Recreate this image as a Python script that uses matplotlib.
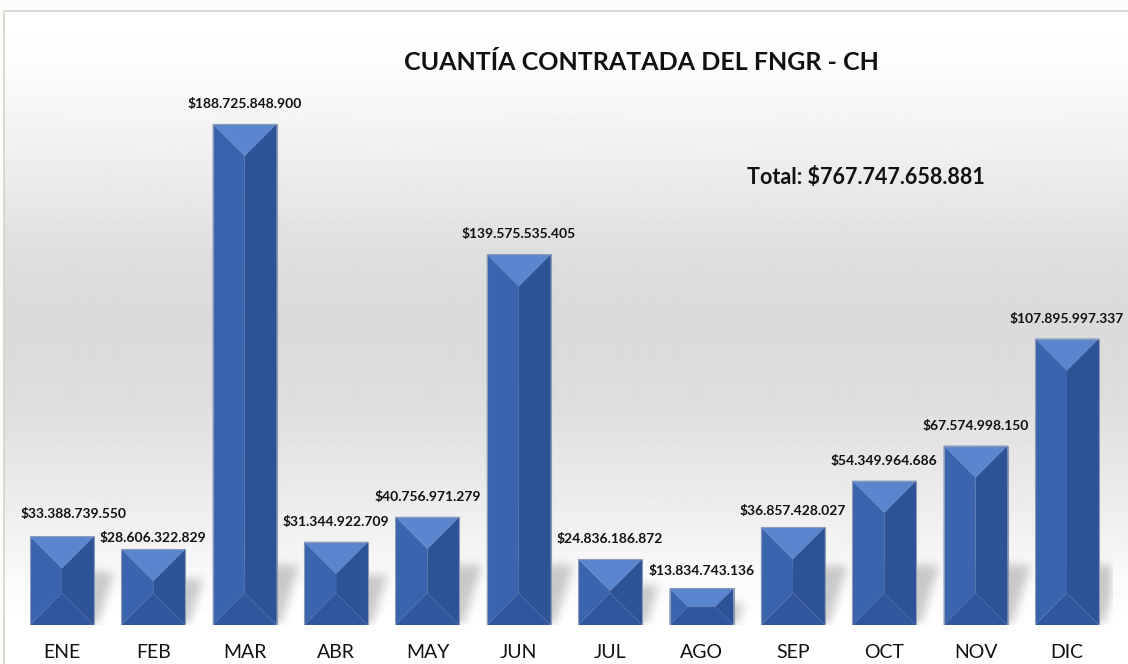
import numpy as np
import matplotlib
matplotlib.use("Agg")
import matplotlib.pyplot as plt
from matplotlib.patches import Polygon, Rectangle
from matplotlib.path import Path

# Monthly contracted amounts (pesos)
months = ["ENE", "FEB", "MAR", "ABR", "MAY", "JUN",
          "JUL", "AGO", "SEP", "OCT", "NOV", "DIC"]
values = [33388739550, 28606322829, 188725848900, 31344922709,
          40756971279, 139575535405, 24836186872, 13834743136,
          36857428027, 54349964686, 67574998150, 107895997337]
labels = ["$33.388.739.550", "$28.606.322.829", "$188.725.848.900",
          "$31.344.922.709", "$40.756.971.279", "$139.575.535.405",
          "$24.836.186.872", "$13.834.743.136", "$36.857.428.027",
          "$54.349.964.686", "$67.574.998.150", "$107.895.997.337"]
title = "CUANTÍA CONTRATADA DEL FNGR - CH"
total_text = "Total: $767.747.658.881"

plt.rcParams['font.family'] = ['Lato', 'DejaVu Sans']

W, H, DPI = 1128, 664, 100
fig = plt.figure(figsize=(W / DPI, H / DPI), dpi=DPI)
fig.patch.set_facecolor("#fdfcfa")

# background gradient (white -> gray -> white) inside chart border
bg = fig.add_axes([0, 0, 1, 1], zorder=-10)
bg.set_xlim(0, W)
bg.set_ylim(H, 0)
bg.axis("off")
stops_y = [11, 60, 150, 250, 320, 400, 500, 580, 620, 664]
stops_g = [255, 253, 240, 223, 218, 222, 236, 250, 255, 255]
yy = np.arange(11, H)
g = np.interp(yy, stops_y, stops_g) / 255.0
grad = np.repeat(g[:, None], 2, axis=1)
bg.imshow(grad, cmap="gray", vmin=0, vmax=1, aspect="auto",
          extent=[4, W, H, 11], interpolation="bilinear")
bg.add_patch(Rectangle((4, 11), W, H, fill=False, edgecolor="#d6d2cc", lw=1.2))

# main axes
ax_l, ax_b, ax_w, ax_h = 16.3 / W, 39 / H, 1096.4 / W, 585 / H
ax = fig.add_axes([ax_l, ax_b, ax_w, ax_h])
ax.patch.set_alpha(0)
x = np.arange(len(months))
vals = np.array(values) / 1e9
ymax = 585 / 2.655
ax.set_xlim(-0.5, len(months) - 0.5)
ax.set_ylim(0, ymax)
for s in ax.spines.values():
    s.set_visible(False)
ax.set_yticks([])
ax.set_xticks(x)
ax.set_xticklabels(months, fontsize=14, color="#111111")
ax.tick_params(axis="x", length=0, pad=14)

bw = 0.7
pxx = ax_w * W / len(months)   # pixels per x unit
pxy = ax_h * H / ymax          # pixels per y unit

# soft shadow behind each bar, rendered from the bar shape and blurred
gw, gh = int(ax_w * W), int(ax_h * H)
gx, gy = np.meshgrid(np.arange(gw) + 0.5, np.arange(gh) + 0.5)
pts = np.column_stack([gx.ravel(), gy.ravel()])
mask = np.zeros(gw * gh)
for xi, v in zip(x, vals):
    x0 = (xi - bw / 2 + 0.5) * pxx
    x1 = (xi + bw / 2 + 0.5) * pxx
    hp = min(v * pxy * 0.6, 60)
    sk = 0.3 * hp
    poly = Path([(x0 + 8, 0), (x1 + 4, 0), (x1 + 4 + sk, hp),
                 (x0 + 8 + sk, hp)])
    mask = np.maximum(mask, poly.contains_points(pts).astype(float))
mask = mask.reshape(gh, gw)


def box_blur(a, r):
    for axis in (0, 1):
        c = np.cumsum(np.pad(a, [(r + 1, r) if i == axis else (0, 0) for i in range(2)],
                             mode="constant"), axis=axis)
        if axis == 0:
            a = (c[2 * r + 1:] - c[:-2 * r - 1]) / (2 * r + 1)
        else:
            a = (c[:, 2 * r + 1:] - c[:, :-2 * r - 1]) / (2 * r + 1)
    return a


for _ in range(3):
    mask = box_blur(mask, 4)
shadow = np.zeros((gh, gw, 4))
shadow[..., 3] = mask * 0.2
ax.imshow(shadow, origin="lower", extent=[-0.5, len(months) - 0.5, 0, ymax],
          aspect="auto", zorder=1, interpolation="bilinear")

# bevelled bars
c_top, c_left, c_right, c_bot = "#5a86cf", "#3a64ad", "#2d5296", "#30579d"
for xi, v in zip(x, vals):
    x0, x1 = xi - bw / 2, xi + bw / 2
    d_px = min(bw * pxx, v * pxy) / 2
    dx, dy = d_px / pxx, d_px / pxy
    xm0, xm1 = x0 + dx, x1 - dx
    y_in0, y_in1 = dy, v - dy
    ax.add_patch(Polygon([(x0, v), (x1, v), (xm1, y_in1), (xm0, y_in1)],
                         closed=True, fc=c_top, ec="none", zorder=3))
    ax.add_patch(Polygon([(x0, 0), (x0, v), (xm0, y_in1), (xm0, y_in0)],
                         closed=True, fc=c_left, ec="none", zorder=3))
    ax.add_patch(Polygon([(x1, 0), (x1, v), (xm1, y_in1), (xm1, y_in0)],
                         closed=True, fc=c_right, ec="none", zorder=3))
    ax.add_patch(Polygon([(x0, 0), (x1, 0), (xm1, y_in0), (xm0, y_in0)],
                         closed=True, fc=c_bot, ec="none", zorder=3))
    ax.add_patch(Rectangle((x0, 0), bw, v, fill=False, ec="#8f9bb3", lw=0.8, zorder=4))

# value labels, a few nudged like the original
nudge = {0: (12, 22), 1: (0, 11), 7: (0, 17), 8: (0, 16)}
for xi, v, lab in zip(x, vals, labels):
    ox, oy = nudge.get(xi, (0, 20))
    ax.annotate(lab, (xi, v), xytext=(ox * 0.72, oy * 0.72), textcoords="offset points",
                ha="center", va="center", fontsize=10, fontweight="bold",
                color="#111111", zorder=5, annotation_clip=False)

fig.text(641 / W, 1 - 63 / H, title, ha="center", va="center",
         fontsize=18, fontweight="bold", color="#111111")
fig.text(866 / W, 1 - 178 / H, total_text, ha="center", va="center",
         fontsize=15.5, fontweight="bold", color="#111111")

fig.savefig("out.png", dpi=DPI)
